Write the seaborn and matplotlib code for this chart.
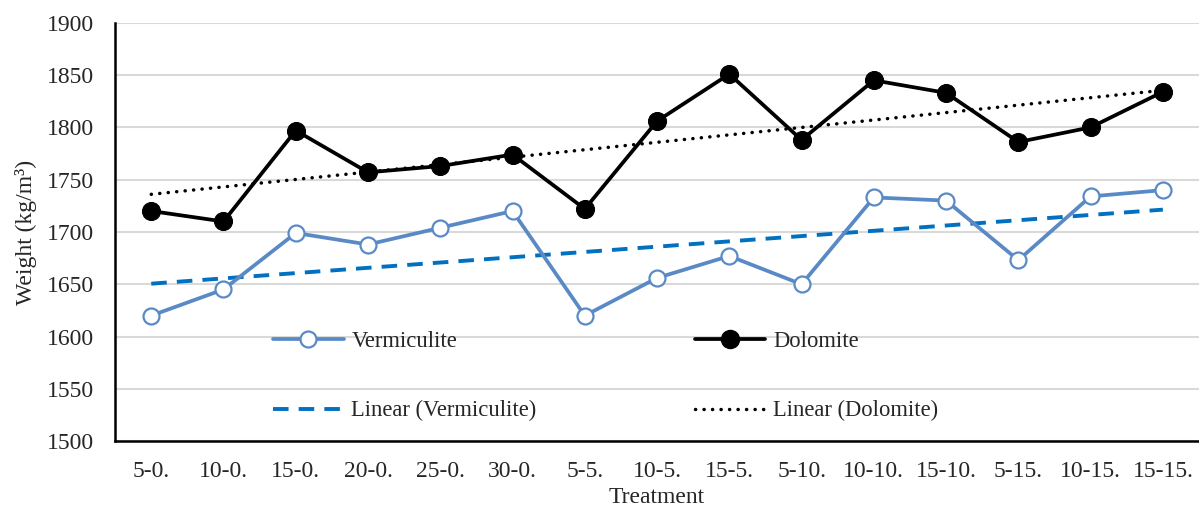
import numpy as np
import pandas as pd
import matplotlib.pyplot as plt
import seaborn as sns
from matplotlib.lines import Line2D

treatments = ['5-0.', '10-0.', '15-0.', '20-0.', '25-0.', '30-0.', '5-5.', '10-5.',
              '15-5.', '5-10.', '10-10.', '15-10.', '5-15.', '10-15.', '15-15.']
vermiculite = [1620, 1645, 1699, 1688, 1704, 1720, 1620, 1656, 1677, 1650, 1733, 1730, 1673, 1734, 1740]
dolomite = [1720, 1710, 1797, 1757, 1763, 1774, 1722, 1806, 1851, 1788, 1845, 1833, 1786, 1800, 1834]

df = pd.DataFrame({'pos': np.arange(len(treatments)), 'Treatment': treatments,
                   'Vermiculite': vermiculite, 'Dolomite': dolomite})

sns.set_style('white')
plt.rcParams['font.family'] = ['Liberation Serif', 'DejaVu Serif']
plt.rcParams['font.size'] = 17

blue = '#5A8AC6'
trend_blue = '#0070C0'

fig = plt.figure(figsize=(11.99, 5.07), dpi=100)
ax = fig.add_axes([0.096, 0.130, 0.904, 0.825])

# trend lines (least squares, like excel)
sns.regplot(data=df, x='pos', y='Vermiculite', scatter=False, ci=None, ax=ax,
            line_kws=dict(color=trend_blue, lw=2.8, dashes=(4.0, 2.6), zorder=2))
sns.regplot(data=df, x='pos', y='Dolomite', scatter=False, ci=None, ax=ax,
            line_kws=dict(color='black', lw=2.5, dashes=(0.05, 2.4), dash_capstyle='round', zorder=2))

sns.lineplot(data=df, x='pos', y='Vermiculite', ax=ax, color=blue, lw=2.7, marker='o',
             markersize=11.5, markerfacecolor='white', markeredgecolor=blue, markeredgewidth=1.6, zorder=3)
sns.lineplot(data=df, x='pos', y='Dolomite', ax=ax, color='black', lw=2.7, marker='o',
             markersize=13, markerfacecolor='black', markeredgecolor='black', zorder=3)

ax.set_xlim(-0.5, len(treatments) - 0.5)
ax.set_ylim(1500, 1900)
ax.set_yticks(range(1500, 1901, 50))
ax.set_xticks(df['pos'])
ax.set_xticklabels(treatments)
ax.tick_params(axis='both', length=0, labelsize=17)
ax.tick_params(axis='x', pad=14)
ax.tick_params(axis='y', pad=15)
ax.yaxis.grid(True, color='#D9D9D9', lw=1.5)
ax.set_axisbelow(True)
for s in ['top', 'right']:
    ax.spines[s].set_visible(False)
for s in ['left', 'bottom']:
    ax.spines[s].set_color('black')
    ax.spines[s].set_linewidth(1.8)

ax.set_xlabel('Treatment', fontsize=17, labelpad=4)
ax.set_ylabel('Weight (kg/m³)', fontsize=17, labelpad=7)

handles = [
    Line2D([], [], color=blue, lw=2.7, marker='o', markersize=11.5, markerfacecolor='white',
           markeredgecolor=blue, markeredgewidth=1.6),
    Line2D([], [], color=trend_blue, lw=2.8, dashes=(4.0, 2.6)),
    Line2D([], [], color='black', lw=2.7, marker='o', markersize=13),
    Line2D([], [], color='black', lw=2.5, dashes=(0.05, 2.4), dash_capstyle='round'),
]
labels = ['Vermiculite', 'Linear (Vermiculite)', 'Dolomite', 'Linear (Dolomite)']
ax.legend(handles, labels, ncol=2, loc='upper left', bbox_to_anchor=(0.146, 0.264),
          frameon=False, borderpad=0, borderaxespad=0, handlelength=3.1, handletextpad=0.35,
          columnspacing=7.0, labelspacing=2.15, fontsize=16.3)

fig.savefig('out.png', dpi=100)
